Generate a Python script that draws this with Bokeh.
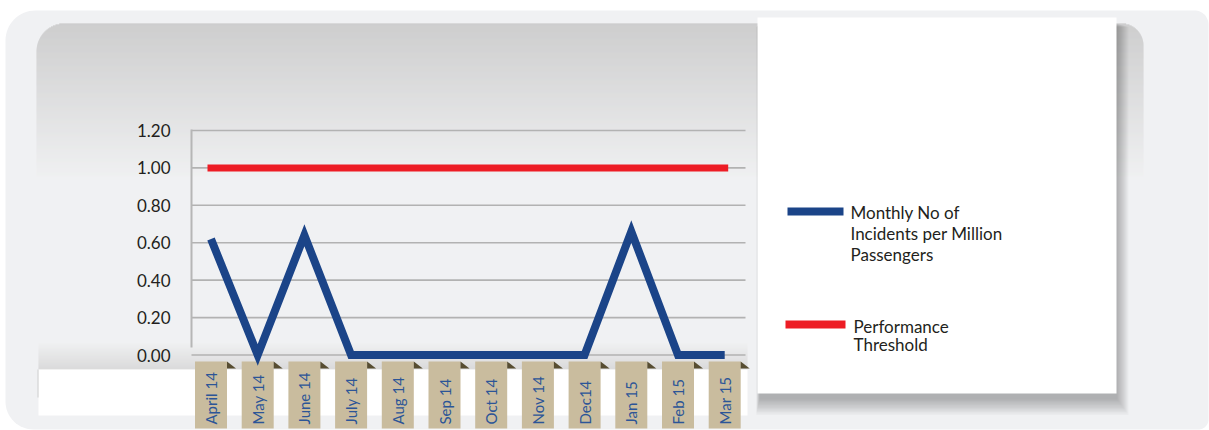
import math

from bokeh.core.properties import value
from bokeh.embed import file_html
from bokeh.models import Range1d
from bokeh.plotting import figure
from bokeh.resources import INLINE

# ---- data -------------------------------------------------------------
months = ["April 14", "May 14", "June 14", "July 14", "Aug 14", "Sep 14",
          "Oct 14", "Nov 14", "Dec14", "Jan 15", "Feb 15", "Mar 15"]
incidents = [0.62, 0.0, 0.64, 0.0, 0.0, 0.0, 0.0, 0.0, 0.0, 0.66, 0.0, 0.0]
threshold = [1.0] * 12

y_ticks = [0.0, 0.2, 0.4, 0.6, 0.8, 1.0, 1.2]
y_tick_labels = ["0.00", "0.20", "0.40", "0.60", "0.80", "1.00", "1.20"]

series_labels = ["Monthly No of\nIncidents per Million\nPassengers",
                 "Performance\nThreshold"]
series_colors = ["#1b4488", "#ed1c24"]

# ---- geometry of the page (pixels) ------------------------------------
W, H = 1209, 430
X0, STEP = 210.5, 46.7       # pixel of the first month, pixels per month
Y0, YSCALE = 354.5, 187.1    # pixel of the zero line, pixels per unit
FONT = "Lato"

idx = list(range(len(months)))

p = figure(
    width=W, height=H, output_backend="svg", toolbar_location=None,
    x_range=Range1d(-X0 / STEP, (W - X0) / STEP),
    y_range=Range1d(-(H - Y0) / YSCALE, Y0 / YSCALE),
    x_axis_location=None, y_axis_location=None,
    min_border=0,
)
p.grid.visible = False
p.outline_line_color = None
p.background_fill_color = "white"
p.border_fill_color = "white"
p.extra_x_ranges = {"px": Range1d(0, W)}
p.extra_y_ranges = {"px": Range1d(H, 0)}
PX = dict(x_range_name="px", y_range_name="px")


def mix(c0, c1, t):
    a = [int(c0[i:i + 2], 16) for i in (1, 3, 5)]
    b = [int(c1[i:i + 2], 16) for i in (1, 3, 5)]
    return "#%02x%02x%02x" % tuple(round(a[k] + (b[k] - a[k]) * t) for k in range(3))


def rounded(x0, y0, x1, y1, r_tl, r_tr, r_br, r_bl, n=16):
    xs, ys = [], []
    corners = [((x0 + r_tl, y0 + r_tl), r_tl, math.pi, 1.5 * math.pi),
               ((x1 - r_tr, y0 + r_tr), r_tr, 1.5 * math.pi, 2 * math.pi),
               ((x1 - r_br, y1 - r_br), r_br, 0.0, 0.5 * math.pi),
               ((x0 + r_bl, y1 - r_bl), r_bl, 0.5 * math.pi, math.pi)]
    for (cx, cy), r, a0, a1 in corners:
        for k in range(n + 1):
            a = a0 + (a1 - a0) * k / n
            xs.append(cx + r * math.cos(a))
            ys.append(cy + r * math.sin(a))
    return xs, ys


# outer light panel
ox, oy = rounded(5, 10, 1208, 429, 30, 14, 10, 28)
p.patch(ox, oy, fill_color="#f0f1f3", line_color=None, **PX)

# inner panel with a grey fade at the top
IL, IR, IT, IB = 36, 1143, 23, 176
R_TL, R_TR = 28, 22
lefts, rights, tops, bottoms, fills = [], [], [], [], []
for y in range(IT, IB):
    yc = y + 0.5
    l, r = IL, IR
    if yc < IT + R_TL:
        d = R_TL - (yc - IT)
        l = IL + R_TL - math.sqrt(max(R_TL ** 2 - d ** 2, 0))
    if yc < IT + R_TR:
        d = R_TR - (yc - IT)
        r = IR - R_TR + math.sqrt(max(R_TR ** 2 - d ** 2, 0))
    lefts.append(l)
    rights.append(r)
    tops.append(y)
    bottoms.append(y + 1.05)
    fills.append(mix("#c2c2c2", "#eff0f1", (y - IT) / (IB - IT)))
p.quad(left=lefts, right=rights, top=tops, bottom=bottoms,
       fill_color=fills, line_color=None, **PX)

# darker band under the plot floor, then a white strip for the month tags
GT, GB = 343, 369
band_y = list(range(GT, GB))
p.quad(left=38, right=747, top=band_y, bottom=[y + 1.05 for y in band_y],
       fill_color=[mix("#eeeff0", "#d2d2d2", (y - GT) / (GB - GT)) for y in band_y],
       line_color=None, **PX)
p.quad(left=[38], right=[747], top=[369], bottom=[415],
       fill_color="white", line_color=None, **PX)
p.segment(x0=[37.5], y0=[369], x1=[37.5], y1=[397], line_color="#cfcfcf",
          line_width=1, **PX)

# grid lines and value axis
p.segment(x0=191, y0=y_ticks, x1=745, y1=y_ticks, line_color="#b2b2b2",
          line_width=1.6, x_range_name="px")
p.segment(x0=[191], y0=[129], x1=[191], y1=[347], line_color="#b6b6b6",
          line_width=2, **PX)
p.text(x=170, y=y_ticks, text=y_tick_labels, x_range_name="px",
       text_align="right", text_baseline="middle", text_color="#231f20",
       text_font=value(FONT), text_font_size="17px")

# month tags: tan cards with a folded corner
TAG_TOP, TAG_BOT, TAG_W = 361, 428, 32
p.rect(x=idx, y=(TAG_TOP + TAG_BOT) / 2, width=TAG_W, height=TAG_BOT - TAG_TOP,
       width_units="screen", height_units="screen",
       fill_color="#c9bc9e", line_color=None, y_range_name="px")
half = TAG_W / 2 / STEP
p.patches(xs=[[i + half, i + half, i + half + 9 / STEP] for i in idx],
          ys=[[TAG_TOP, TAG_TOP + 7, TAG_TOP + 7] for _ in idx],
          fill_color="#574d31", line_color=None, y_range_name="px")
p.text(x=idx, y=424, text=months, angle=math.pi / 2, y_range_name="px",
       text_align="left", text_baseline="middle", text_color="#2c5597",
       text_font=value(FONT), text_font_size="15px")

# series
p.line(idx, threshold, line_color=series_colors[1], line_width=7,
       line_cap="square")
p.line(idx, incidents, line_color=series_colors[0], line_width=8,
       line_join="miter")

# legend card with a soft shadow
BL, BR, BT, BB = 757, 1116, 17, 393
for k in range(12):
    p.quad(left=[BL + 2 - k * 0.3], right=[BR + 1 + k], top=[BT + 6 + k * 0.3],
           bottom=[BB + 6 + k * 1.4], fill_color="black", fill_alpha=0.022,
           line_color=None, **PX)
p.quad(left=[BL], right=[BR], top=[BT], bottom=[BB], fill_color="white",
       line_color=None, **PX)

p.segment(x0=[787, 785], y0=[211, 324], x1=[843, 845], y1=[211, 324],
          line_color=series_colors, line_width=8, **PX)
p.text(x=[850], y=[201], text=[series_labels[0]], text_align="left",
       text_baseline="top", text_color="#231f20", text_font=value(FONT),
       text_font_size="17px", text_line_height=1.02, **PX)
p.text(x=[853], y=[315], text=[series_labels[1]], text_align="left",
       text_baseline="top", text_color="#231f20", text_font=value(FONT),
       text_font_size="17px", text_line_height=0.9, **PX)

open("out.html", "w").write(file_html(p, INLINE))
